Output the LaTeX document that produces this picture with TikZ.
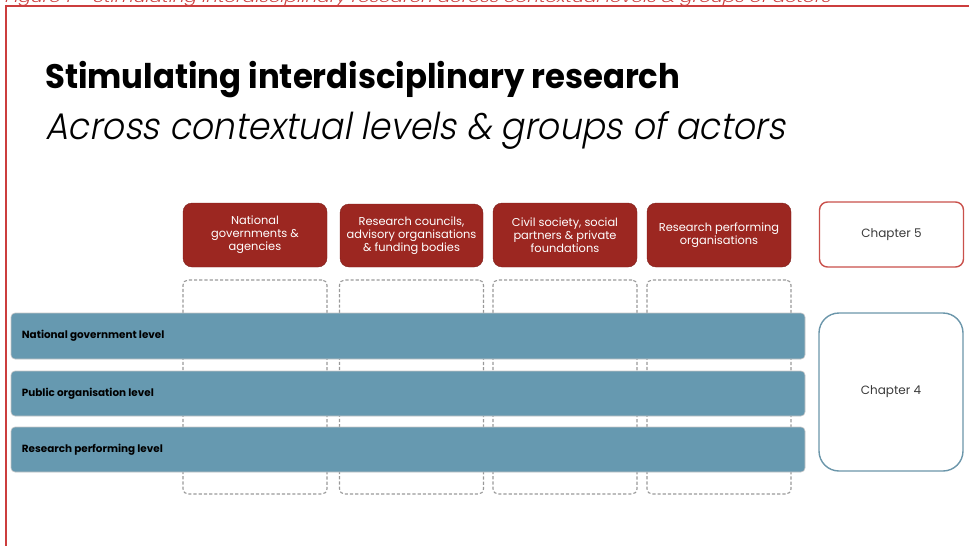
\documentclass[tikz,border=0pt]{standalone}
\usepackage{fontspec}
\usepackage{graphicx}
\setmainfont{Poppins}
\IfFontExistsTF{Poppins Light}
  {\newfontfamily\lightslant{Poppins Light}[FakeSlant=0.2]}
  {\newfontfamily\lightslant{Poppins}[FakeSlant=0.2]}

\definecolor{framered}{HTML}{CC3D3D}
\definecolor{actorred}{HTML}{9C2721}
\definecolor{chapred}{HTML}{C9504B}
\definecolor{levelblue}{HTML}{6699B0}
\definecolor{chapblue}{HTML}{6B96AA}
\definecolor{dashgray}{HTML}{999999}
\definecolor{chaptext}{HTML}{3A3A3A}

\tikzset{
  actorbox/.style={draw=actorred!80!black, line width=0.4pt, fill=actorred,
    rounded corners=9pt, minimum width=144pt, minimum height=64pt,
    text=white, align=center, inner sep=2pt,
    font=\fontsize{11.4}{13}\selectfont},
  groupcol/.style={draw=dashgray, line width=1.1pt, dash pattern=on 3.2pt off 2pt,
    rounded corners=5pt, minimum width=144pt, minimum height=214pt},
  levelbar/.style={draw=gray!45, line width=0.6pt, fill=levelblue,
    rounded corners=4pt, minimum width=794pt, minimum height=45pt},
  levellabel/.style={anchor=west, inner sep=0pt,
    font=\bfseries\fontsize{10.4}{12}\selectfont, text=black},
  chapbox/.style={fill=white, line width=1.4pt, text=chaptext,
    font=\fontsize{12}{14}\selectfont, minimum width=144pt},
}

\begin{document}
\begin{tikzpicture}[x=1pt, y=-1pt]
\useasboundingbox (0,0) rectangle (969,546);
\clip (0,0) rectangle (969,546);

% caption running off the top edge
\node[anchor=base west, inner sep=0pt, text=framered] (caption) at (4,2)
  {\resizebox{826pt}{\height}{\lightslant\fontsize{14}{14}\selectfont
   Figure 1 – Stimulating interdisciplinary research across contextual levels \& groups of actors}};

% slide frame
\draw[framered, line width=2.5pt] (6,560) -- (6,6) -- (980,6);

% headings
\node[anchor=base west, inner sep=0pt] (title) at (45,88)
  {\resizebox{635pt}{\height}{\bfseries\fontsize{34}{34}\selectfont Stimulating interdisciplinary research}};
\node[anchor=base west, inner sep=0pt] (subtitle) at (45,139)
  {\resizebox{740pt}{\height}{\lightslant\fontsize{37}{37}\selectfont Across contextual levels \& groups of actors}};

% dashed columns for the groups of actors
\node[groupcol] (c1) at (255,387) {};
\node[groupcol] (c2) at (411.5,387) {};
\node[groupcol] (c3) at (565,387) {};
\node[groupcol] (c4) at (719,387) {};

% groups of actors
\node[actorbox] (g1) at (255,235) {National\\governments \&\\agencies};
\node[actorbox, minimum width=143pt, minimum height=63pt] (g2) at (411.5,235.5)
  {Research councils,\\advisory organisations\\\& funding bodies};
\node[actorbox] (g3) at (565,235) {Civil society, social\\partners \& private\\foundations};
\node[actorbox] (g4) at (719,235) {Research performing\\organisations};

% contextual levels
\node[levelbar, minimum height=46pt] (b1) at (408,336) {};
\node[levelbar] (b2) at (408,393.5) {};
\node[levelbar] (b3) at (408,449.5) {};
\node[levellabel] (l1) at ([xshift=11pt]b1.west) {National government level};
\node[levellabel] (l2) at ([xshift=11pt]b2.west) {Public organisation level};
\node[levellabel] (l3) at ([xshift=11pt]b3.west) {Research performing level};

% chapter references
\node[chapbox, draw=chapred, rounded corners=8pt, minimum height=65pt] (ch5) at (891.5,234.5) {Chapter 5};
\node[chapbox, draw=chapblue, rounded corners=20pt, minimum height=158pt] (ch4) at (891,392) {Chapter 4};
\end{tikzpicture}
\end{document}
